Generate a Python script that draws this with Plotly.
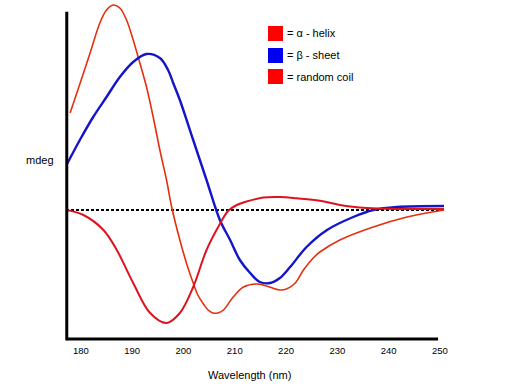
import plotly.graph_objects as go

# ---- data (wavelength in nm, ellipticity in arbitrary mdeg units) ----
alpha_wl = [177.9, 179.8, 181.8, 183.7, 185.0, 186.3, 187.6, 188.9, 190.2, 191.5,
            192.8, 194.1, 195.4, 196.7, 197.7, 199.3, 200.7, 201.9, 202.8, 203.9,
            204.8, 205.8, 206.7, 207.8, 209.7, 211.7, 214.3, 216.2, 218.8, 220.1,
            221.8, 223.4, 225.3, 226.6, 230.5, 237.0, 243.6, 250.8]
alpha_cd = [9.7, 12.6, 15.7, 18.7, 20.0, 20.5, 20.2, 19.0, 17.0, 14.7,
            12.3, 9.3, 6.0, 3.0, 0.3, -3.0, -5.5, -7.3, -8.5, -9.4,
            -10.0, -10.3, -10.3, -10.0, -8.7, -7.7, -7.4, -7.6, -8.0, -7.9,
            -7.3, -6.0, -4.8, -4.2, -3.0, -1.7, -0.7, 0.0]

beta_wl = [177.2, 179.8, 182.4, 185.0, 187.6, 190.2, 192.8, 195.4, 197.0, 198.0,
           199.3, 201.9, 204.5, 207.1, 209.1, 211.0, 213.0, 214.9, 216.9, 218.8,
           220.8, 224.0, 228.0, 233.1, 237.0, 241.6, 250.8]
beta_cd = [4.5, 7.0, 9.3, 11.3, 13.3, 14.8, 15.6, 15.2, 14.0, 12.7,
           11.0, 7.0, 3.0, -1.0, -3.0, -5.0, -6.3, -7.2, -7.3, -6.8,
           -5.7, -3.7, -2.0, -0.7, 0.0, 0.3, 0.4]

coil_wl = [177.2, 180.5, 184.4, 187.0, 190.2, 193.5, 196.7, 199.3, 201.9, 204.5,
           207.1, 208.7, 210.4, 212.3, 215.6, 218.8, 222.1, 226.6, 230.5, 235.8,
           242.2, 250.8]
coil_cd = [0.0, -0.5, -2.0, -4.0, -7.3, -10.3, -11.3, -10.3, -7.7, -4.0,
           -1.4, -0.1, 0.5, 0.85, 1.25, 1.3, 1.17, 0.93, 0.5, 0.2,
           0.1, 0.1]

legend_labels = ["= \u03b1 - helix", "= \u03b2 - sheet", "= random coil"]
legend_colors = ["#FF0000", "#0000F0", "#FF0000"]

tick_vals = [180, 190, 200, 210, 220, 230, 240, 250]
tick_text = ["180", "190", "200", "210", "220", "230", "240", "250"]

x_title = "Wavelength (nm)"
y_title = "mdeg"

FONT = "Arial, 'Liberation Sans', sans-serif"

fig = go.Figure()
fig.add_trace(go.Scatter(x=alpha_wl, y=alpha_cd, mode="lines",
                         line=dict(color="#E4300E", width=1.6, shape="spline", smoothing=1.0),
                         showlegend=False, hoverinfo="skip"))
fig.add_trace(go.Scatter(x=beta_wl, y=beta_cd, mode="lines",
                         line=dict(color="#1414C8", width=2.4, shape="spline", smoothing=1.0),
                         showlegend=False, hoverinfo="skip"))
fig.add_trace(go.Scatter(x=coil_wl, y=coil_cd, mode="lines",
                         line=dict(color="#DC1420", width=2.0, shape="spline", smoothing=1.0),
                         showlegend=False, hoverinfo="skip"))

shapes = []
# zero (baseline) dotted line
shapes.append(dict(type="line", xref="paper", yref="y", x0=0.0, x1=0.992, y0=0, y1=0,
                   line=dict(color="black", width=2, dash="3px,2px"), layer="below"))
# y axis line
shapes.append(dict(type="line", xref="paper", yref="paper", x0=0.002, x1=0.002,
                   y0=-0.004, y1=0.965, line=dict(color="black", width=3)))
# x axis line
shapes.append(dict(type="line", xref="paper", yref="paper", x0=0.0, x1=0.974,
                   y0=0.0, y1=0.0, line=dict(color="black", width=3)))

annotations = []
sq_y = [(0.9233, 0.8791), (0.8584, 0.8142), (0.7965, 0.7522)]
txt_y = [0.9012, 0.8363, 0.7743]
for lab, col, (ya, yb), ty in zip(legend_labels, legend_colors, sq_y, txt_y):
    shapes.append(dict(type="rect", xref="paper", yref="paper", x0=0.5288, x1=0.5681,
                       y0=yb, y1=ya, fillcolor=col, line=dict(width=0)))
    annotations.append(dict(xref="paper", yref="paper", x=0.5733, y=ty, text=lab,
                            showarrow=False, xanchor="left", yanchor="middle",
                            font=dict(family=FONT, size=11, color="black")))

annotations.append(dict(xref="paper", yref="paper", x=0.480, y=-0.106, text=x_title,
                        showarrow=False, xanchor="center", yanchor="middle",
                        font=dict(family=FONT, size=11, color="black")))
annotations.append(dict(xref="paper", yref="paper", x=-0.068, y=0.528, text=y_title,
                        showarrow=False, xanchor="center", yanchor="middle",
                        font=dict(family=FONT, size=11, color="black")))

fig.update_layout(
    width=518, height=388,
    margin=dict(l=66, r=70, t=0, b=49, pad=0),
    paper_bgcolor="white", plot_bgcolor="white",
    shapes=shapes, annotations=annotations,
    xaxis=dict(range=[177.1, 251.58], tickmode="array", tickvals=tick_vals, ticktext=tick_text,
               showline=False, showgrid=False, zeroline=False,
               ticks="outside", ticklen=3, tickcolor="rgba(0,0,0,0)",
               tickfont=dict(family=FONT, size=9.5, color="black"), fixedrange=True),
    yaxis=dict(range=[-12.9, 21.0], visible=False, showgrid=False, zeroline=False,
               fixedrange=True),
    showlegend=False,
)

fig.write_html("out.html", config={"displayModeBar": False},
               post_script="document.body.style.margin='0px';")
